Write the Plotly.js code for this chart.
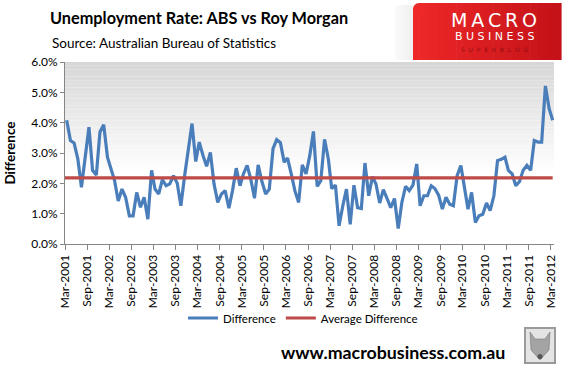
<!DOCTYPE html>
<html>
<head>
<meta charset="utf-8">
<script src="https://cdn.plot.ly/plotly-3.0.1.min.js"></script>
<style>html,body{margin:0;padding:0;background:#fff;}#chart{width:563px;height:368px;}</style>
</head>
<body>
<div id="chart"></div>
<script>
// ---- Data (monthly, Mar 2001 - Mar 2012), percentage points ----
const startYear = 2001, startMonth = 3;
const difference = [
  4.08, 3.41, 3.33, 2.81, 1.87, 2.90, 3.85, 2.43, 2.27, 3.69,
  3.93, 2.86, 2.53, 2.09, 1.42, 1.81, 1.54, 0.93, 0.93, 1.70,
  1.21, 1.54, 0.82, 2.43, 1.81, 1.65, 2.12, 1.92, 1.98, 2.25,
  2.00, 1.26, 2.25, 3.08, 3.97, 2.72, 3.36, 2.92, 2.56, 3.02,
  1.98, 1.37, 1.65, 1.76, 1.18, 1.76, 2.50, 1.92, 2.31, 2.59,
  2.14, 1.51, 2.61, 2.06, 1.65, 1.81, 3.14, 3.44, 3.34, 2.70,
  2.83, 2.30, 1.75, 1.37, 2.61, 2.31, 2.92, 3.71, 1.90, 2.09,
  3.45, 2.81, 1.83, 1.94, 0.60, 1.26, 1.81, 0.65, 1.94, 1.20,
  1.17, 2.67, 1.59, 2.22, 1.98, 1.35, 1.79, 1.50, 1.20, 1.50,
  0.51, 1.37, 1.90, 1.76, 1.94, 2.64, 1.26, 1.59, 1.59, 1.92,
  1.83, 1.61, 1.15, 1.54, 1.31, 1.26, 2.25, 2.59, 1.87, 1.15,
  1.70, 0.71, 0.93, 0.98, 1.35, 1.10, 1.59, 2.75, 2.79, 2.86,
  2.43, 2.31, 1.92, 2.06, 2.43, 2.59, 2.43, 3.41, 3.36, 3.36,
  5.21, 4.46, 4.08
];
const averageDifference = 2.18;
const seriesNames = ["Difference", "Average Difference"];
const yTickValues = [0, 1, 2, 3, 4, 5, 6];
const yTickLabels = ["0.0%", "1.0%", "2.0%", "3.0%", "4.0%", "5.0%", "6.0%"];

// month dates (mid-month)
const dates = difference.map((_, i) => {
  const m0 = startMonth - 1 + i;
  const y = startYear + Math.floor(m0 / 12);
  const m = (m0 % 12) + 1;
  return y + "-" + String(m).padStart(2, "0") + "-15";
});

// ---- Layout geometry (pixels) ----
const W = 563, H = 368;
const L = 65, R = 554, T = 62, B = 244;
const px2x = px => (px - L) / (R - L);
const py2y = py => (B - py) / (B - T);

const FONT = "Lato, 'Open Sans', sans-serif";

const shapes = [];
// plot-area vertical gradient (gray at top fading to white)
const bands = 30;
for (let i = 0; i < bands; i++) {
  const t = i / bands;
  const c = Math.round(215 + (255 - 215) * t);
  shapes.push({
    type: "rect", xref: "paper", yref: "paper", layer: "below",
    x0: 0, x1: 1, y0: 1 - 0.6 * (i + 1) / bands, y1: 1 - 0.6 * i / bands,
    line: { width: 0 }, fillcolor: `rgb(${c},${c},${c})`
  });
}
// logo red box with horizontal gradient
const lx0 = 413, lx1 = 561, ly0 = 3, ly1 = 60;
const lb = 24;
for (let i = 0; i < lb; i++) {
  const t = i / (lb - 1);
  const r = Math.round(238 + (196 - 238) * t);
  const g = Math.round(40 + (18 - 40) * t);
  const b = Math.round(40 + (24 - 40) * t);
  const xa = lx0 + (lx1 - lx0) * i / lb;
  const xb = lx0 + (lx1 - lx0) * (i + 1) / lb + 0.6;
  shapes.push({
    type: "rect", xref: "paper", yref: "paper",
    x0: px2x(xa), x1: px2x(xb), y0: py2y(ly1), y1: py2y(i === 0 ? ly0 + 6 : ly0),
    line: { width: 0 }, fillcolor: `rgb(${r},${g},${b})`
  });
}
shapes.push({
  type: "circle", xref: "paper", yref: "paper",
  x0: px2x(lx0), x1: px2x(lx0 + 12), y0: py2y(ly0 + 12), y1: py2y(ly0),
  line: { width: 0 }, fillcolor: "rgb(238,40,40)"
});
for (let i = 0; i < 6; i++) {
  const c = Math.round(250 - i * 2);
  shapes.push({
    type: "rect", xref: "paper", yref: "paper",
    x0: px2x(395 + i * 3), x1: px2x(398 + i * 3), y0: py2y(60), y1: py2y(5),
    line: { width: 0 }, fillcolor: `rgb(${c},${c},${c})`
  });
}
// wolf picture frame
shapes.push({
  type: "rect", xref: "paper", yref: "paper",
  x0: px2x(525), x1: px2x(555), y0: py2y(363), y1: py2y(328),
  line: { width: 2, color: "#9a9a9a" }, fillcolor: "#e4e4e4"
});
shapes.push({
  type: "path", xref: "paper", yref: "paper",
  path: `M ${px2x(530)} ${py2y(332)} L ${px2x(535)} ${py2y(339)} L ${px2x(545)} ${py2y(339)} L ${px2x(550)} ${py2y(332)} L ${px2x(549)} ${py2y(350)} L ${px2x(540)} ${py2y(360)} L ${px2x(531)} ${py2y(350)} Z`,
  line: { width: 0.5, color: "#6a6a6a" }, fillcolor: "#a4a4a4"
});
shapes.push({
  type: "circle", xref: "paper", yref: "paper",
  x0: px2x(537.5), x1: px2x(542.5), y0: py2y(359), y1: py2y(354),
  line: { width: 0 }, fillcolor: "#555"
});

const annotations = [
  { text: "Source: Australian Bureau of Statistics", xref: "paper", yref: "paper",
    x: px2x(50), y: py2y(43), xanchor: "left", yanchor: "middle", showarrow: false,
    font: { family: FONT, size: 13.5, color: "#000" } },
  { text: "M\u2009A\u2009C\u2009R\u2009O", xref: "paper", yref: "paper",
    x: px2x(494), y: py2y(20), xanchor: "center", yanchor: "middle", showarrow: false,
    font: { family: "'DejaVu Sans', sans-serif", size: 19, color: "#fff" } },
  { text: "B U S I N E S S", xref: "paper", yref: "paper",
    x: px2x(494), y: py2y(36), xanchor: "center", yanchor: "middle", showarrow: false,
    font: { family: "'DejaVu Sans', sans-serif", size: 11, color: "#fff" } },
  { text: "S  U  P  E  R  B  L  O  G", xref: "paper", yref: "paper",
    x: px2x(494), y: py2y(49), xanchor: "center", yanchor: "middle", showarrow: false,
    font: { family: "'DejaVu Sans', sans-serif", size: 6, color: "#8e0c10" } },
  { text: "<b>www.macrobusiness.com.au</b>", xref: "paper", yref: "paper",
    x: px2x(393), y: py2y(352), xanchor: "center", yanchor: "middle", showarrow: false,
    font: { family: FONT, size: 17.8, color: "#000" } }
];

const traces = [
  { type: "scatter", mode: "lines", name: seriesNames[0], x: dates, y: difference,
    line: { color: "#4a7ebb", width: 3.2 } },
  { type: "scatter", mode: "lines", name: seriesNames[1],
    x: [dates[0].slice(0, 8) + "01", dates[dates.length - 1]],
    y: [averageDifference, averageDifference],
    line: { color: "#be4b48", width: 3.2 } }
];

const layout = {
  width: W, height: H,
  margin: { l: L, r: W - R, t: T, b: H - B, pad: 0 },
  paper_bgcolor: "#fff", plot_bgcolor: "#fff",
  font: { family: FONT, size: 11.5, color: "#000" },
  title: { text: "<b>Unemployment Rate: ABS vs Roy Morgan</b>", xref: "container", yref: "container",
    x: 50 / W, xanchor: "left", y: 1 - 18 / H, yanchor: "middle",
    font: { family: FONT, size: 16.3, color: "#000" } },
  showlegend: true,
  legend: { orientation: "h", x: px2x(303), xanchor: "center", y: py2y(318), yanchor: "middle",
    font: { family: FONT, size: 11.5, color: "#000" }, bgcolor: "rgba(0,0,0,0)",
    itemwidth: 30, tracegroupgap: 0 },
  xaxis: {
    type: "date", range: ["2001-03-01", "2012-03-26"],
    tick0: "2001-03-01", dtick: "M6", tickformat: "%b-%Y", tickangle: -90,
    ticks: "outside", ticklen: 5, tickcolor: "#868686",
    showline: true, linecolor: "#868686", linewidth: 1, showgrid: false, zeroline: false,
    tickfont: { family: FONT, size: 12, color: "#000" }
  },
  yaxis: {
    range: [0, 6], tickmode: "array", tickvals: yTickValues, ticktext: yTickLabels,
    ticks: "outside", ticklen: 4, tickcolor: "#868686",
    showline: true, linecolor: "#868686", linewidth: 1, showgrid: false, zeroline: false,
    tickfont: { family: FONT, size: 12, color: "#000" },
    title: { text: "<b>Difference</b>", standoff: 12, font: { family: FONT, size: 13.5, color: "#000" } }
  },
  shapes: shapes,
  annotations: annotations
};

Plotly.newPlot("chart", traces, layout, { displayModeBar: false, staticPlot: true });
</script>
</body>
</html>
